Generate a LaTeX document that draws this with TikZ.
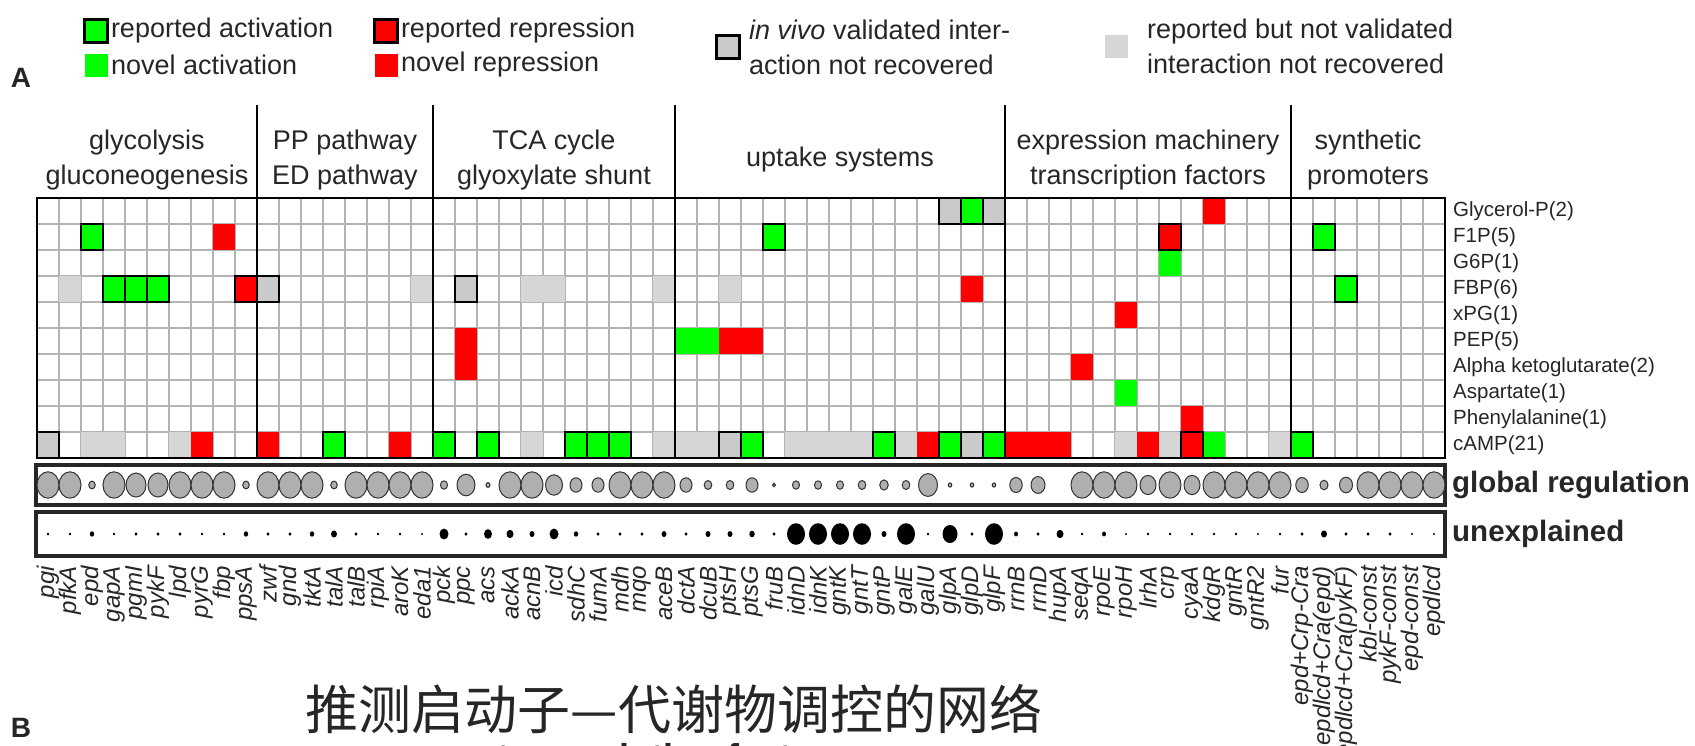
\documentclass[tikz,border=0pt]{standalone}
\usepackage{fontspec}
\setmainfont{Liberation Sans}
\newfontfamily\cjk{Noto Sans CJK SC}
\usetikzlibrary{positioning}

\definecolor{actgreen}{HTML}{00FF00}
\definecolor{represred}{HTML}{FF0000}
\definecolor{notvalgray}{HTML}{D6D6D6}
\definecolor{vivogray}{HTML}{CACACA}
\definecolor{gridgray}{HTML}{B4B4B4}
\definecolor{globgray}{HTML}{AFAFAF}
\definecolor{ink}{HTML}{262626}

\newcommand{\legfont}{\fontsize{27}{35}\selectfont}
\newcommand{\rowfont}{\fontsize{20.5}{24}\selectfont}
\newcommand{\colfont}{\fontsize{24}{28}\selectfont\itshape}
\newcommand{\boldlab}{\fontsize{29.5}{34}\selectfont\bfseries}

\tikzset{
  cellbox/.style={line width=2.6pt},
  repact/.style={cellbox, fill=actgreen, draw=black},
  novact/.style={fill=actgreen},
  reprep/.style={cellbox, fill=represred, draw=black},
  novrep/.style={fill=represred},
  vivo/.style={cellbox, fill=vivogray, draw=black},
  notval/.style={fill=notvalgray},
  gridline/.style={draw=gridgray, line width=1.5pt},
  groupline/.style={draw=black, line width=2.6pt},
  frame/.style={draw=black, line width=2.6pt},
  panelbox/.style={draw=black!85, line width=3.5pt},
  legbox/.style={minimum width=23pt, minimum height=23pt, inner sep=0pt, draw=black, line width=2.6pt},
  legtext/.style={font=\legfont, inner sep=0pt, anchor=west},
  hdr/.style={font=\legfont, align=center, inner sep=0pt},
  rowlabel/.style={font=\rowfont, anchor=west, inner sep=0pt},
  collabel/.style={font=\colfont, rotate=90, anchor=east, inner sep=0pt},
  sidelabel/.style={font=\boldlab, anchor=west, inner sep=0pt},
  glob/.style={fill=globgray, draw=gray!40!black, line width=1pt},
  unexp/.style={fill=black},
}

\begin{document}
\begin{tikzpicture}[x=1pt,y=-1pt,every node/.style={text=ink}]
  \useasboundingbox (0,0) rectangle (1695,745);
  \clip (0,0) rectangle (1695,745);

  % legend
  \node[legbox,fill=actgreen] (kRA) at (96,31) {};
  \node[legtext,right=2pt of kRA] (tRA) {reported activation};
  \node[legbox,fill=actgreen,draw=none] (kNA) at (96,65) {};
  \node[legtext,right=2pt of kNA] (tNA) {novel activation};
  \node[legbox,fill=represred] (kRR) at (386,31) {};
  \node[legtext,right=2pt of kRR] (tRR) {reported repression};
  \node[legbox,fill=represred,draw=none] (kNR) at (386,65) {};
  \node[legtext,right=2pt of kNR] (tNR) {novel repression};
  \node[legbox,fill=vivogray] (kIV) at (728,47) {};
  \node[legtext,align=left,right=8pt of kIV] (tIV) {\textit{in vivo} validated inter-\\action not recovered};
  \node[legbox,fill=notvalgray,draw=none] (kNV) at (1116,46) {};
  \node[legtext,align=left,right=18pt of kNV] (tNV) {reported but not validated\\interaction not recovered};

  \node[font=\fontsize{28}{30}\selectfont\bfseries] (panA) at (21,78) {A};
  \node[font=\fontsize{28}{30}\selectfont\bfseries] (panB) at (21,728) {B};

  % group headers
  \node[hdr] (hGly) at (147,160) {glycolysis\\gluconeogenesis};
  \node[hdr] (hPP) at (345,160) {PP pathway\\ED pathway};
  \node[hdr] (hTCA) at (554,160) {TCA cycle\\glyoxylate shunt};
  \node[hdr] (hUp) at (840,160) {uptake systems};
  \node[hdr] (hExp) at (1148,160) {expression machinery\\transcription factors};
  \node[hdr] (hSyn) at (1368,160) {synthetic\\promoters};

  % grid
  \foreach \c in {1,...,63}
    \draw[gridline] ({37+22*\c},198) -- ({37+22*\c},458);
  \foreach \r in {1,...,9}
    \draw[gridline] (37,{198+26*\r}) -- (1445,{198+26*\r});

  % cells without border
  \foreach \c/\r in {1/3,17/3,22/3,23/3,28/3,31/3,2/9,3/9,6/9,22/9,28/9,29/9,30/9,
                     34/9,35/9,36/9,37/9,39/9,49/9,51/9,56/9}
    \fill[notval] ({37+22*\c},{198+26*\r}) rectangle ++(22,26);
  \foreach \c/\r in {29/5,30/5,51/2,49/7,53/9}
    \fill[novact] ({37+22*\c},{198+26*\r}) rectangle ++(22,26);
  \foreach \c/\r in {8/1,7/9,10/9,16/9,19/5,19/6,31/5,32/5,40/9,44/9,45/9,46/9,
                     50/9,42/3,49/4,47/6,52/8,53/0}
    \fill[novrep] ({37+22*\c},{198+26*\r}) rectangle ++(22,26);

  % cells with border
  \foreach \c/\r in {0/9,10/3,19/3,31/9,42/9,41/0,43/0}
    \draw[vivo] ({37+22*\c},{198+26*\r}) rectangle ++(22,26);
  \foreach \c/\r in {2/1,3/3,4/3,5/3,13/9,18/9,20/9,24/9,25/9,26/9,33/1,32/9,38/9,
                     41/9,43/9,42/0,58/1,59/3,57/9}
    \draw[repact] ({37+22*\c},{198+26*\r}) rectangle ++(22,26);
  \foreach \c/\r in {9/3,51/1,52/9}
    \draw[reprep] ({37+22*\c},{198+26*\r}) rectangle ++(22,26);

  \foreach \x in {257,433,675,1005,1291}
    \draw[groupline] (\x,105) -- (\x,458);
  \draw[frame] (37,198) rectangle (1445,458);

  % metabolites
  \foreach \m [count=\r from 0] in {Glycerol-P(2),F1P(5),G6P(1),FBP(6),xPG(1),PEP(5),
      Alpha ketoglutarate(2),Aspartate(1),Phenylalanine(1),cAMP(21)}
    \node[rowlabel] (met\r) at (1453,{211+26*\r}) {\m};

  % global regulation and unexplained
  \draw[panelbox] (36,465) rectangle (1445,505);
  \draw[panelbox] (36,512) rectangle (1445,556);
  \foreach \c/\d in {0/22,1/22,2/6.5,3/22,4/20,5/20,6/22,7/22,8/22,9/6.5,10/22,11/22,
      12/22,13/6.5,14/22,15/22,16/22,17/22,18/7,19/18,20/4,21/22,22/22,23/17,24/12,
      25/12,26/22,27/22,28/22,29/12,30/7.5,31/7.5,32/12,33/3,34/7,35/7,36/7,37/7.5,
      38/8.5,39/7.5,40/19,41/3.5,42/3.5,43/3.5,44/12.5,45/14,47/22,48/22,49/22,50/16,
      51/22,52/16,53/22,54/22,55/22,56/22,57/12.5,58/8,59/13,60/22,61/22,62/22,63/22}
    \filldraw[glob] ({48+22*\c},485) ellipse [x radius={\d*0.5pt}, y radius={\d*0.6pt}];
  \foreach \c/\d in {0/2.5,1/2.5,2/4.5,3/2.5,4/3,5/3,6/3,7/2.5,8/2.5,9/4.5,10/3,11/3,
      12/4.5,13/6,14/3,15/2.5,16/2.5,17/2,18/9,19/3,20/8,21/7,22/5,23/9,24/4.5,25/3,
      26/3,27/3,28/5,29/3,30/5,31/5,32/5.5,33/3,34/18,35/18,36/18,37/18,38/5,39/18,
      40/2.5,41/15,42/3,43/18,44/4,45/3,46/7,47/2.5,48/4,49/2,50/2.5,51/2.5,52/2.5,
      53/2.5,54/2.5,55/2,56/2.5,57/3,58/6,59/3,60/3,61/3,62/2,63/2}
    \fill[unexp] ({48+22*\c},534) ellipse [x radius={\d*0.5pt}, y radius={\d*0.6pt}];
  \node[sidelabel] (lGlob) at (1452,485) {global regulation};
  \node[sidelabel] (lUnex) at (1452,534) {unexplained};

  % promoters
  \foreach \g [count=\i from 0] in {pgi,pfkA,epd,gapA,pgmI,pykF,lpd,pyrG,fbp,ppsA,
      zwf,gnd,tktA,talA,talB,rpiA,aroK,eda1,pck,ppc,acs,ackA,acnB,icd,sdhC,fumA,mdh,
      mqo,aceB,dctA,dcuB,ptsH,ptsG,fruB,idnD,idnK,gntK,gntT,gntP,galE,galU,glpA,glpD,
      glpF,rrnB,rrnD,hupA,seqA,rpoE,rpoH,lrhA,crp,cyaA,kdgR,gntR,gntR2,fur,
      epd+Crp-Cra,epdlcd+Cra(epd),epdlcd+Cra(pykF),kbl-const,pykF-const,epd-const,epdlcd}
    \node[collabel] (prom\i) at ({48+22*\i},566) {\g};

  \node[font=\cjk\fontsize{53}{53}\selectfont] (title) at (674,709) {推测启动子—代谢物调控的网络};
  \node[font=\fontsize{36}{36}\selectfont\bfseries, anchor=base west, inner sep=0pt] (tfB) at (497,769) {transcription factors};
\end{tikzpicture}
\end{document}
